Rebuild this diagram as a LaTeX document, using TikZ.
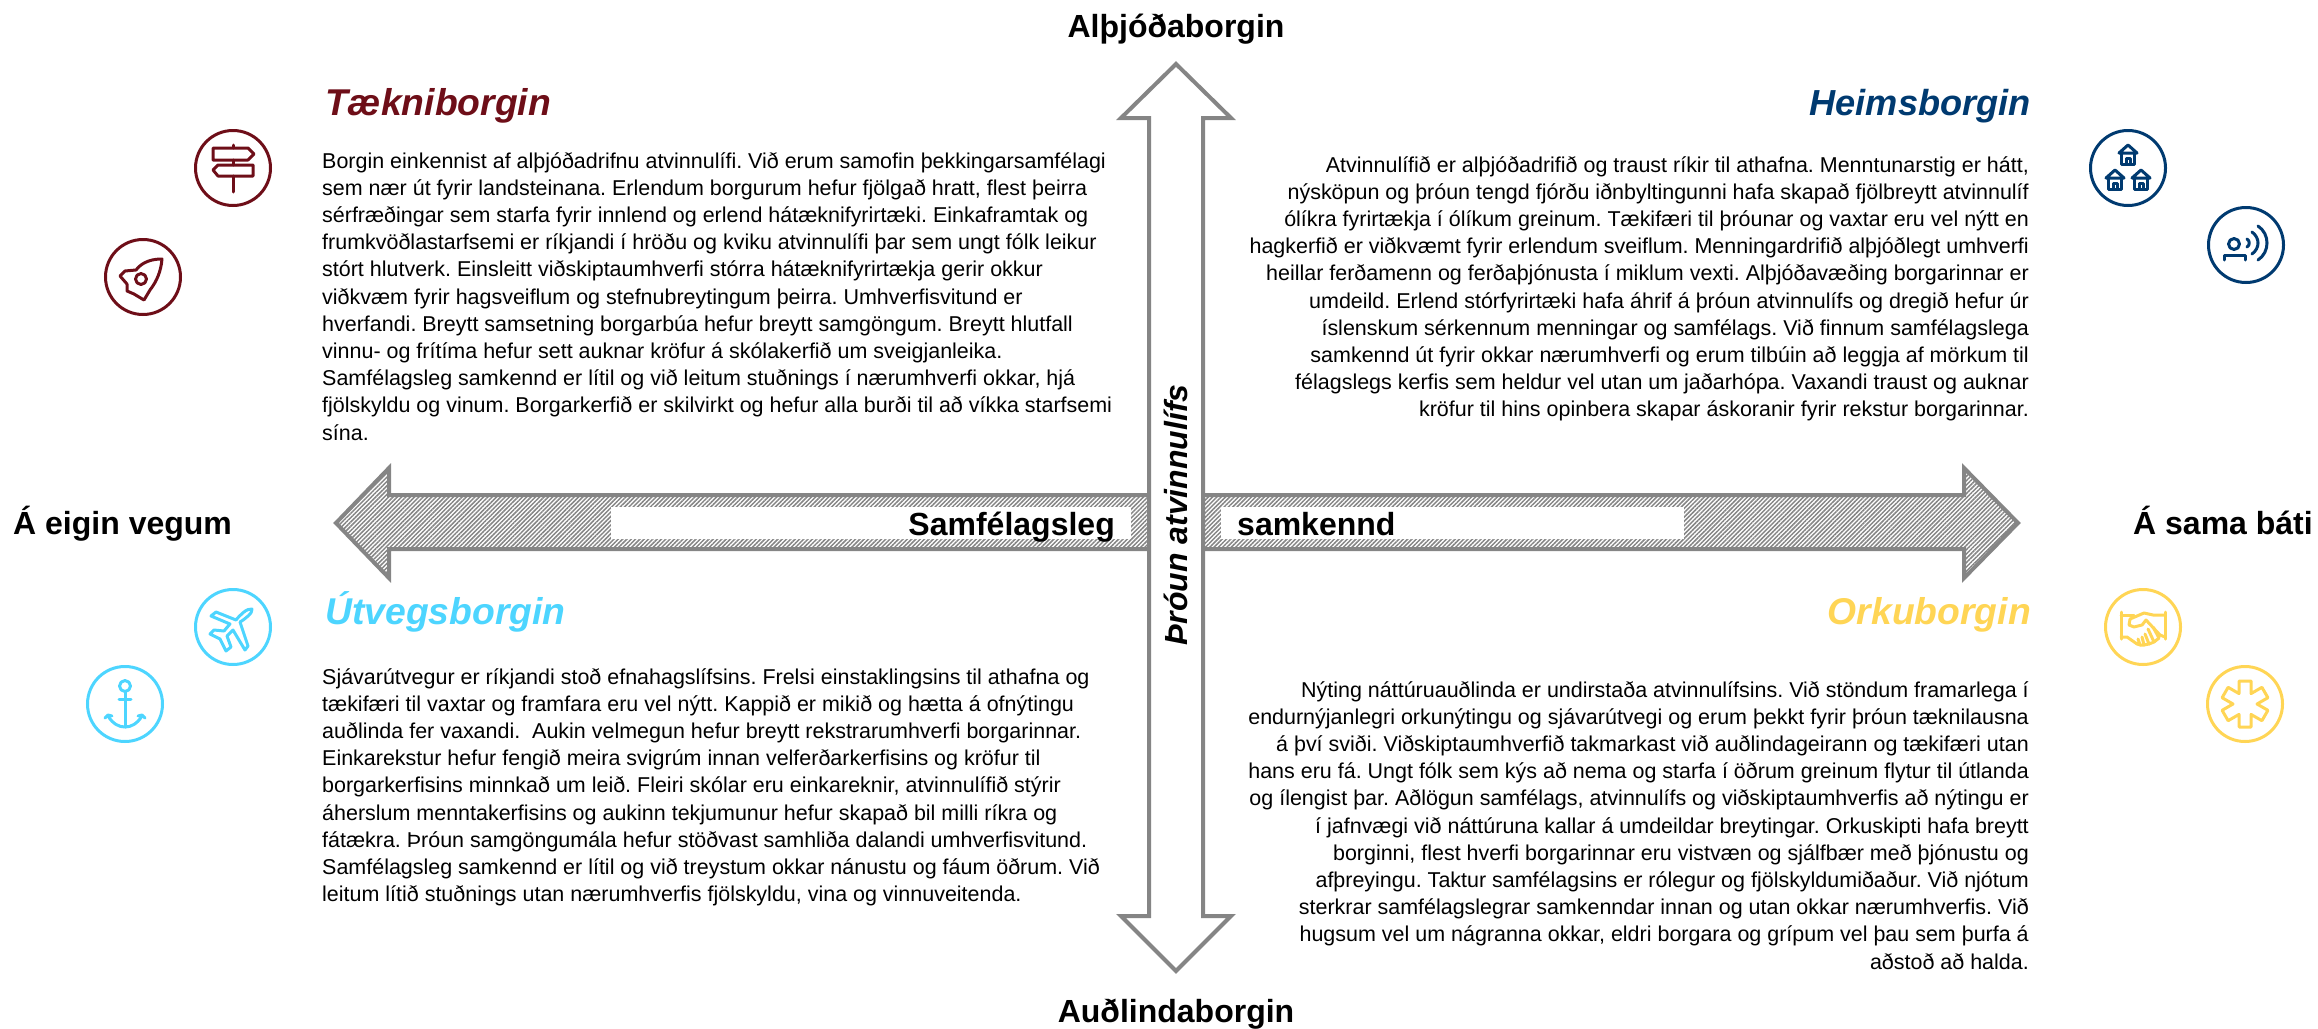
\documentclass[tikz,border=0pt]{standalone}
\usepackage{fontspec}
\setmainfont{Liberation Sans}
\usetikzlibrary{patterns.meta}
\definecolor{arrowgray}{HTML}{858585}
\definecolor{maroonc}{HTML}{6E0E18}
\definecolor{bluec}{HTML}{003A70}
\definecolor{cyanc}{HTML}{4DD5FF}
\definecolor{yellowc}{HTML}{FFD555}
\newcommand{\bodytext}{\fontsize{21.47}{27.2}\selectfont\frenchspacing}
\newcommand{\myhouse}[2]{%
  \begin{scope}[shift={(#1,#2)}]
    \draw (-9,8) -- (0,0) -- (9,8) -- cycle;
    \draw (-6.5,8) -- (-6.5,19) -- (6.5,19) -- (6.5,8);
    \draw (-2,19) -- (-2,13) -- (2,13) -- (2,19);
  \end{scope}}
\tikzset{
  bigarrow/.style={draw=arrowgray,line width=4pt,miter limit=10},
  hatchfill/.style={pattern={Lines[angle=45,distance=3.05pt,line width=1.5pt]},pattern color=arrowgray},
  headlabel/.style={font=\fontsize{32}{36}\selectfont\bfseries,inner sep=0pt,anchor=base},
  cityname/.style={font=\fontsize{37.3}{42}\selectfont\bfseries\itshape,inner sep=0pt},
  bodynode/.style={inner sep=0pt},
  iconring/.style={circle,draw=#1,line width=3pt,minimum size=75pt,inner sep=0pt},
  iconline/.style={draw=#1,line width=3pt,line join=round,line cap=round},
}
\begin{document}
\begin{tikzpicture}[x=1pt,y=-1pt]
\useasboundingbox (0,0) rectangle (2318,1028);

% horizontal double arrow
\path[bigarrow,hatchfill] (336,523) -- (389,468) -- (389,495) -- (1964,495) -- (1964,468) -- (2018,523) -- (1964,578) -- (1964,549) -- (389,549) -- (389,578) -- cycle;
\fill[white] (611,507) rectangle (1131,539);
\fill[white] (1221,507) rectangle (1684,539);
% vertical double arrow
\path[bigarrow,fill=white] (1176,64) -- (1231,118) -- (1203,118) -- (1203,916) -- (1231,916) -- (1176,971) -- (1121,916) -- (1149,916) -- (1149,118) -- (1121,118) -- cycle;

% axis labels
\node[headlabel] (top) at (1176,37) {Alþjóðaborgin};
\node[headlabel] (bottom) at (1176,1022) {Auðlindaborgin};
\node[headlabel,anchor=base west] (leftlab) at (13,534) {Á eigin vegum};
\node[headlabel,anchor=base east] (rightlab) at (2313,534) {Á sama báti};
\node[headlabel,anchor=base east] (samf) at (1115,535) {Samfélagsleg};
\node[headlabel,anchor=base west] (samk) at (1237,535) {samkennd};
\node[headlabel,anchor=base,rotate=90,font=\fontsize{32}{36}\selectfont\bfseries\itshape] (throun) at (1187,515) {Þróun atvinnulífs};

% city names
\node[cityname,anchor=base west,text=maroonc] (tn) at (325,115) {Tækniborgin};
\node[cityname,anchor=base east,text=bluec,font=\fontsize{36.2}{42}\selectfont\bfseries\itshape] (hm) at (2031,115) {Heimsborgin};
\node[cityname,anchor=base west,text=cyanc] (ut) at (325,624) {Útvegsborgin};
\node[cityname,anchor=base east,text=yellowc] (or) at (2031,624) {Orkuborgin};

% body text
\node[bodynode,anchor=base west] (tntext) at (322,168) {\parbox[t]{800pt}{\bodytext\raggedright
Borgin einkennist af alþjóðadrifnu atvinnulífi. Við erum samofin þekkingarsamfélagi\\
sem nær út fyrir landsteinana. Erlendum borgurum hefur fjölgað hratt, flest þeirra\\
sérfræðingar sem starfa fyrir innlend og erlend hátæknifyrirtæki. Einkaframtak og\\
frumkvöðlastarfsemi er ríkjandi í hröðu og kviku atvinnulífi þar sem ungt fólk leikur\\
stórt hlutverk. Einsleitt viðskiptaumhverfi stórra hátæknifyrirtækja gerir okkur\\
viðkvæm fyrir hagsveiflum og stefnubreytingum þeirra. Umhverfisvitund er\\
hverfandi. Breytt samsetning borgarbúa hefur breytt samgöngum. Breytt hlutfall\\
vinnu- og frítíma hefur sett auknar kröfur á skólakerfið um sveigjanleika.\\
Samfélagsleg samkennd er lítil og við leitum stuðnings í nærumhverfi okkar, hjá\\
fjölskyldu og vinum. Borgarkerfið er skilvirkt og hefur alla burði til að víkka starfsemi\\
sína.}};

\node[bodynode,anchor=base east] (hmtext) at (2029,172) {\parbox[t]{800pt}{\bodytext\raggedleft
Atvinnulífið er alþjóðadrifið og traust ríkir til athafna. Menntunarstig er hátt,\\
nýsköpun og þróun tengd fjórðu iðnbyltingunni hafa skapað fjölbreytt atvinnulíf\\
ólíkra fyrirtækja í ólíkum greinum. Tækifæri til þróunar og vaxtar eru vel nýtt en\\
hagkerfið er viðkvæmt fyrir erlendum sveiflum. Menningardrifið alþjóðlegt umhverfi\\
heillar ferðamenn og ferðaþjónusta í miklum vexti. Alþjóðavæðing borgarinnar er\\
umdeild. Erlend stórfyrirtæki hafa áhrif á þróun atvinnulífs og dregið hefur úr\\
íslenskum sérkennum menningar og samfélags. Við finnum samfélagslega\\
samkennd út fyrir okkar nærumhverfi og erum tilbúin að leggja af mörkum til\\
félagslegs kerfis sem heldur vel utan um jaðarhópa. Vaxandi traust og auknar\\
kröfur til hins opinbera skapar áskoranir fyrir rekstur borgarinnar.}};

\node[bodynode,anchor=base west] (uttext) at (322,684) {\parbox[t]{800pt}{\bodytext\raggedright
Sjávarútvegur er ríkjandi stoð efnahagslífsins. Frelsi einstaklingsins til athafna og\\
tækifæri til vaxtar og framfara eru vel nýtt. Kappið er mikið og hætta á ofnýtingu\\
auðlinda fer vaxandi.~ Aukin velmegun hefur breytt rekstrarumhverfi borgarinnar.\\
Einkarekstur hefur fengið meira svigrúm innan velferðarkerfisins og kröfur til\\
borgarkerfisins minnkað um leið. Fleiri skólar eru einkareknir, atvinnulífið stýrir\\
áherslum menntakerfisins og aukinn tekjumunur hefur skapað bil milli ríkra og\\
fátækra. Þróun samgöngumála hefur stöðvast samhliða dalandi umhverfisvitund.\\
Samfélagsleg samkennd er lítil og við treystum okkar nánustu og fáum öðrum. Við\\
leitum lítið stuðnings utan nærumhverfis fjölskyldu, vina og vinnuveitenda.}};

\node[bodynode,anchor=base east] (ortext) at (2029,697) {\parbox[t]{800pt}{\bodytext\raggedleft
Nýting náttúruauðlinda er undirstaða atvinnulífsins. Við stöndum framarlega í\\
endurnýjanlegri orkunýtingu og sjávarútvegi og erum þekkt fyrir þróun tæknilausna\\
á því sviði. Viðskiptaumhverfið takmarkast við auðlindageirann og tækifæri utan\\
hans eru fá. Ungt fólk sem kýs að nema og starfa í öðrum greinum flytur til útlanda\\
og ílengist þar. Aðlögun samfélags, atvinnulífs og viðskiptaumhverfis að nýtingu er\\
í jafnvægi við náttúruna kallar á umdeildar breytingar. Orkuskipti hafa breytt\\
borginni, flest hverfi borgarinnar eru vistvæn og sjálfbær með þjónustu og\\
afþreyingu. Taktur samfélagsins er rólegur og fjölskyldumiðaður. Við njótum\\
sterkrar samfélagslegrar samkenndar innan og utan okkar nærumhverfis. Við\\
hugsum vel um nágranna okkar, eldri borgara og grípum vel þau sem þurfa á\\
aðstoð að halda.}};

% icon rings
\node[iconring=maroonc] (signring) at (233,168) {};
\node[iconring=maroonc] (rocketring) at (143,277) {};
\node[iconring=bluec] (housering) at (2128,168) {};
\node[iconring=bluec] (personring) at (2246,245) {};
\node[iconring=cyanc] (planering) at (233,627) {};
\node[iconring=cyanc] (anchorring) at (125,704) {};
\node[iconring=yellowc] (handring) at (2143,627) {};
\node[iconring=yellowc] (starring) at (2245,704) {};

% signpost
\begin{scope}[shift={(233,168)},iconline=maroonc]
  \draw (0,-23) -- (0,-20);
  \draw (0,-8) -- (0,-3);
  \draw (0,8) -- (0,24);
  \draw (-20,-20) -- (15,-20) -- (21,-14) -- (15,-8) -- (-20,-8) -- cycle;
  \draw (20,-3) -- (-15,-3) -- (-20,2) -- (-15,8) -- (20,8) -- cycle;
\end{scope}
% rocket
\begin{scope}[shift={(143,277)},iconline=maroonc]
  \draw (19,-18) .. controls (4,-18) and (-3,-12) .. (-7,-7) -- (-18,-6) -- (-23,-1) -- (-16,7) -- (-16,14) -- (-9,17) -- (1,23) -- (7,13) .. controls (14,4) and (18,-6) .. (19,-18) -- cycle;
  \draw (-2,2) circle (5.5);
\end{scope}
% houses
\begin{scope}[shift={(2128,168)},iconline=bluec]
  \myhouse{0}{-23}
  \myhouse{-13}{2}
  \myhouse{13}{2}
\end{scope}
% person broadcasting
\begin{scope}[shift={(2246,245)},iconline=bluec]
  \draw (-12,-1) circle (5.5);
  \draw (-22,15) -- (-22,10) -- (-1,10) -- (-1,15);
  \draw (1,-6) .. controls (4,-4) and (4,0) .. (1,2);
  \draw (6,-13) .. controls (14,-7) and (14,3) .. (6,9);
  \draw (12,-19) .. controls (24,-11) and (24,7) .. (12,15);
\end{scope}
% plane
\begin{scope}[shift={(233,627)},iconline=cyanc]
  \draw (19,-18) .. controls (20,-14) and (12,-8) .. (7,-5) -- (15,19) -- (12,23) -- (0,3) -- (-6,9) -- (-2,20) -- (-7,24) -- (-13,12) -- (-23,7) -- (-19,3) -- (-9,4) -- (-3,-3) -- (-22,-11) -- (-17,-15) -- (3,-7) .. controls (7,-12) and (14,-19) .. (19,-18) -- cycle;
\end{scope}
% anchor
\begin{scope}[shift={(125,704)},iconline=cyanc]
  \draw (0,-18) circle (5.5);
  \draw (0,-12) -- (0,23);
  \draw (-6,-5) -- (6,-5);
  \draw (-17,12) .. controls (-12,20) and (-6,23) .. (0,23) .. controls (6,23) and (12,20) .. (17,12);
  \draw (-20,14) -- (-17,11) -- (-13,12);
  \draw (20,14) -- (17,11) -- (13,12);
\end{scope}
% handshake
\begin{scope}[shift={(2143,627)},iconline=yellowc]
  \draw (-22,-15) -- (-22,12);
  \draw (22,-15) -- (22,12);
  \draw (-22,-12) -- (-9,-12);
  \draw (22,-12) -- (10,-12) -- (1,-14) -- (-13,-8) -- (-14,-2) -- (-9,0) -- (-1,-2) -- (3,-7) -- (17,8);
  \draw (-22,10) -- (-16,10) -- (-6,17) -- (-3,18) -- (-5,12);
  \draw (-3,18) -- (1,18) -- (-1,10);
  \draw (1,18) -- (6,17) -- (2,7);
  \draw (6,17) -- (11,15) -- (5,2);
  \draw (11,15) -- (16,11) -- (10,0);
  \draw (17,8) -- (22,10);
\end{scope}
% star of life
\begin{scope}[shift={(2245,704)},iconline=yellowc]
  \draw (-6,-23) -- (6,-23) -- (6,-10.4) -- (16.9,-16.7) -- (22.9,-6.3) -- (12,0) -- (22.9,6.3) -- (16.9,16.7) -- (6,10.4) -- (6,23) -- (-6,23) -- (-6,10.4) -- (-16.9,16.7) -- (-22.9,6.3) -- (-12,0) -- (-22.9,-6.3) -- (-16.9,-16.7) -- (-6,-10.4) -- cycle;
\end{scope}
\end{tikzpicture}
\end{document}
